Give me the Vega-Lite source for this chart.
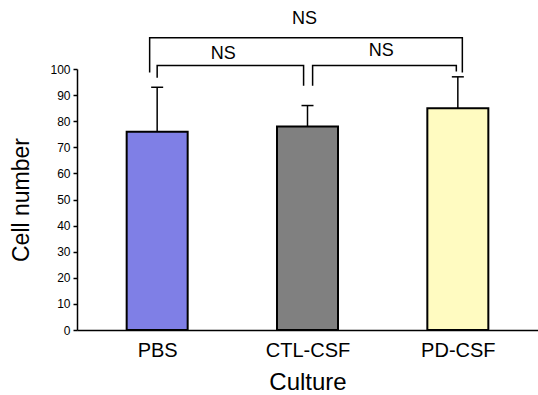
{
  "$schema": "https://vega.github.io/schema/vega-lite/v6.json",
  "width": 461,
  "height": 261,
  "autosize": "none",
  "padding": {"left": 77, "top": 69, "right": 0, "bottom": 65},
  "background": "white",
  "config": {"view": {"stroke": null}, "font": "Liberation Sans"},
  "datasets": {
    "bars": [
      {"culture": "PBS", "pos": 1, "mean": 76, "upper": 93},
      {"culture": "CTL-CSF", "pos": 2, "mean": 78, "upper": 86},
      {"culture": "PD-CSF", "pos": 3, "mean": 85, "upper": 97}
    ],
    "brackets": [
      {"b": "top", "o": 1, "bx": 0.95, "v": 98.7},
      {"b": "top", "o": 2, "bx": 0.95, "v": 112},
      {"b": "top", "o": 3, "bx": 3.03, "v": 112},
      {"b": "top", "o": 4, "bx": 3.03, "v": 98.7},
      {"b": "left", "o": 1, "bx": 1.0, "v": 96.6},
      {"b": "left", "o": 2, "bx": 1.0, "v": 101.3},
      {"b": "left", "o": 3, "bx": 1.974, "v": 101.3},
      {"b": "left", "o": 4, "bx": 1.974, "v": 93.6},
      {"b": "right", "o": 1, "bx": 2.034, "v": 93.6},
      {"b": "right", "o": 2, "bx": 2.034, "v": 101.3},
      {"b": "right", "o": 3, "bx": 2.99, "v": 101.3},
      {"b": "right", "o": 4, "bx": 2.99, "v": 99.0}
    ],
    "labels": [
      {"lx": 1.98, "v": 119, "txt": "NS"},
      {"lx": 1.44, "v": 105.8, "txt": "NS"},
      {"lx": 2.49, "v": 106.9, "txt": "NS"}
    ]
  },
  "encoding": {
    "y": {
      "field": "v", "type": "quantitative",
      "scale": {"domain": [0, 100], "nice": false},
      "axis": {
        "values": [0, 10, 20, 30, 40, 50, 60, 70, 80, 90, 100],
        "labelOverlap": false,
        "title": "Cell number",
        "grid": false,
        "domainColor": "black", "domainWidth": 1.5,
        "tickColor": "black", "tickWidth": 1.5, "tickSize": 4,
        "labelFontSize": 12, "labelColor": "black", "labelPadding": 3,
        "titleFontSize": 23, "titleFontWeight": "normal", "titleColor": "black", "titlePadding": 16
      }
    }
  },
  "layer": [
    {
      "data": {"name": "bars"},
      "transform": [{"calculate": "datum.mean", "as": "v"}],
      "mark": {"type": "bar", "width": 61, "stroke": "black", "strokeWidth": 2},
      "encoding": {
        "x": {
          "field": "pos", "type": "quantitative",
          "scale": {"domain": [0.5, 3.5], "nice": false, "zero": false},
          "axis": {
            "values": [1, 2, 3],
            "labelExpr": "datum.value == 1 ? 'PBS' : datum.value == 2 ? 'CTL-CSF' : 'PD-CSF'",
            "title": "Culture",
            "ticks": false, "tickSize": 0, "grid": false,
            "domainColor": "black", "domainWidth": 1.5,
            "labelFontSize": 20, "labelColor": "black", "labelPadding": 10,
            "titleFontSize": 24, "titleFontWeight": "normal", "titleColor": "black", "titlePadding": 10
          }
        },
        "fill": {
          "field": "culture", "type": "nominal",
          "scale": {"domain": ["PBS", "CTL-CSF", "PD-CSF"], "range": ["#7f7fe6", "#808080", "#fffbc1"]},
          "legend": null
        }
      }
    },
    {
      "data": {"name": "bars"},
      "transform": [{"calculate": "datum.mean", "as": "v"}],
      "mark": {"type": "rule", "color": "black", "strokeWidth": 1.5},
      "encoding": {
        "x": {"field": "pos", "type": "quantitative"},
        "y2": {"field": "upper"}
      }
    },
    {
      "data": {"name": "bars"},
      "transform": [{"calculate": "datum.upper", "as": "v"}],
      "mark": {"type": "tick", "orient": "horizontal", "size": 12, "thickness": 1.5, "color": "black", "opacity": 1},
      "encoding": {
        "x": {"field": "pos", "type": "quantitative"}
      }
    },
    {
      "data": {"name": "brackets"},
      "mark": {"type": "line", "color": "black", "strokeWidth": 1.5, "strokeJoin": "miter"},
      "encoding": {
        "x": {"field": "bx", "type": "quantitative"},
        "detail": {"field": "b"},
        "order": {"field": "o"}
      }
    },
    {
      "data": {"name": "labels"},
      "mark": {"type": "text", "fontSize": 18, "color": "black", "align": "center", "baseline": "middle"},
      "encoding": {
        "x": {"field": "lx", "type": "quantitative"},
        "text": {"field": "txt"}
      }
    }
  ]
}
